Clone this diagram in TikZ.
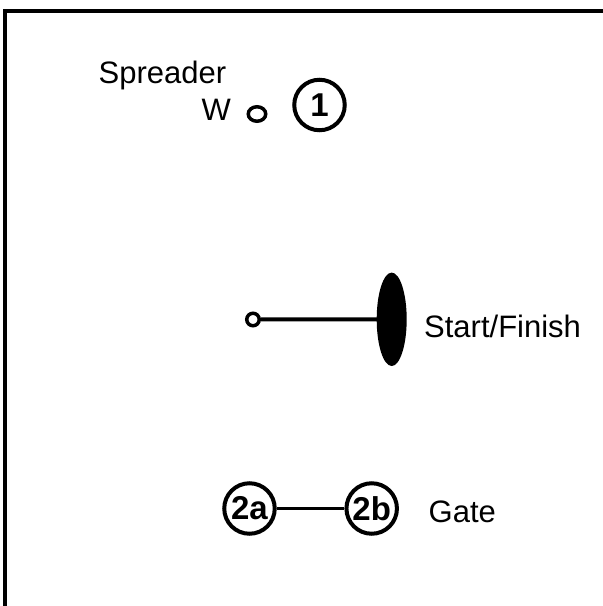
\documentclass[tikz,border=0pt]{standalone}
\usepackage{fontspec}
\setmainfont{Liberation Sans}
\usetikzlibrary{shapes.geometric}
\begin{document}
\begin{tikzpicture}[x=1pt,y=-1pt,
  lbl/.style={inner sep=0pt,anchor=base west,font=\fontsize{31}{36}\selectfont},
  markcircle/.style={circle,draw,line width=4pt,minimum size=50.5pt,inner sep=0pt,font=\bfseries\fontsize{33}{38}\selectfont},
  buoy/.style={circle,draw,line width=3.5pt,inner sep=0pt},
  conn/.style={draw,line width=3.5pt}]
\useasboundingbox (0,0) rectangle (603,606);
\draw[line width=4.8pt] (5,640) coordinate (fbl) -- (5,11) coordinate (ftl) -- (640,11) coordinate (ftr);
\node[lbl] (spreader) at (98.5,83.5) {Spreader};
\node[lbl] (w) at (201.5,120) {W};
\node[buoy,ellipse,minimum width=17.5pt,minimum height=14.5pt] (sbuoy) at (257,114) {};
\node[markcircle] (m1) at (319.5,105) {1};
\node[buoy,minimum size=12.5pt] (pin) at (253,319.5) {};
\node[ellipse,fill=black,inner sep=0pt,minimum width=30pt,minimum height=93.4pt] (boat) at (391.7,319.3) {};
\draw[line width=4pt] (pin) -- (boat.center);
\node[lbl] (sf) at (424,337.2) {Start/Finish};
\node[markcircle] (g2a) at (249.5,508.5) {2a};
\node[markcircle] (g2b) at (371.7,508.5) {2b};
\draw[line width=2.2pt] (g2a) -- (g2b);
\node[lbl] (gate) at (428.5,522.5) {Gate};
\end{tikzpicture}
\end{document}
